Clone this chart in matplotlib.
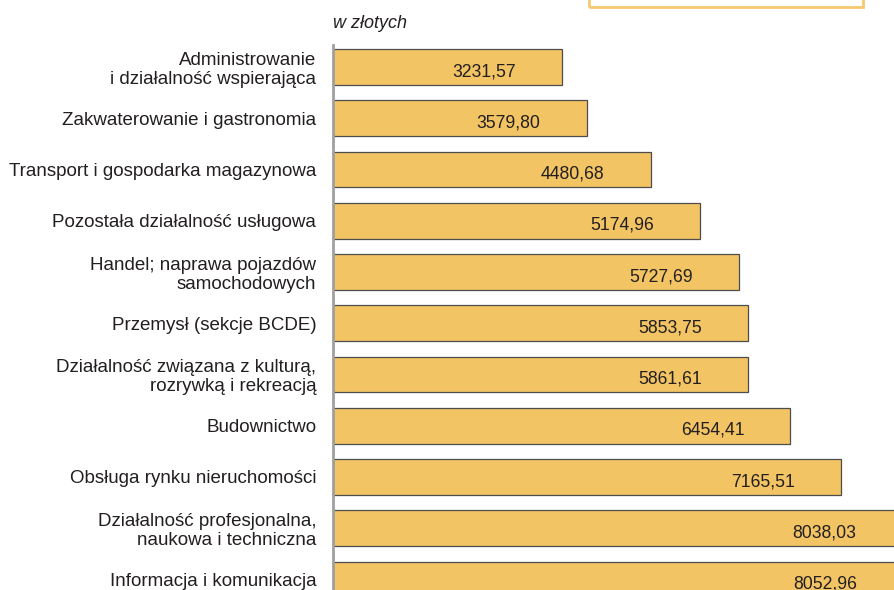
import matplotlib.pyplot as plt
from matplotlib.patches import Rectangle

plt.rcParams['font.family'] = ['Liberation Sans', 'DejaVu Sans']

categories = [
    'Administrowanie\ni działalność wspierająca',
    'Zakwaterowanie i gastronomia',
    'Transport i gospodarka magazynowa',
    'Pozostała działalność usługowa',
    'Handel; naprawa pojazdów\nsamochodowych',
    'Przemysł (sekcje BCDE)',
    'Działalność związana z kulturą,\nrozrywką i rekreacją',
    'Budownictwo',
    'Obsługa rynku nieruchomości',
    'Działalność profesjonalna,\nnaukowa i techniczna',
    'Informacja i komunikacja',
]
wages = [3231.57, 3579.80, 4480.68, 5174.96, 5727.69, 5853.75,
         5861.61, 6454.41, 7165.51, 8038.03, 8052.96]
value_labels = [f'{v:.2f}'.replace('.', ',') for v in wages]

bar_color = '#F2C464'
edge_color = '#4D4D4D'
text_color = '#231F20'

fig = plt.figure(figsize=(8.95, 5.9), dpi=100)
ax = fig.add_axes([333 / 895, 0, 1 - 333 / 895, 545 / 590])

pos = list(range(len(categories)))
ax.barh(pos, wages, height=0.7, color=bar_color, edgecolor=edge_color,
        linewidth=0.9, zorder=2)

for y, v, lab in zip(pos, wages, value_labels):
    ax.text(v - 650, y + 0.09, lab, ha='right', va='center',
            fontsize=12.7, color=text_color, zorder=3)

ax.set_xlim(0, 7931)
ax.set_ylim(10.205, -0.429)
ax.set_yticks(pos)
ax.set_yticklabels(categories, fontsize=13.5, color=text_color, linespacing=1.12)
ax.tick_params(axis='y', length=0, pad=12)
ax.set_xticks([])
for s in ['top', 'right', 'bottom']:
    ax.spines[s].set_visible(False)
ax.spines['left'].set_color('#A0A0A0')
ax.spines['left'].set_linewidth(2)
ax.spines['left'].set_zorder(4)

fig.text(333 / 895, 1 - 23 / 590, 'w złotych', style='italic',
         fontsize=13, color=text_color, ha='left', va='center')

# legend frame cut off at the top of the picture
fig.patches.append(Rectangle((589 / 895, 1 - 7 / 590), 274 / 895, 0.1,
                             transform=fig.transFigure, fill=False,
                             edgecolor='#F5C96E', linewidth=2))

fig.savefig('out.png', dpi=100)
